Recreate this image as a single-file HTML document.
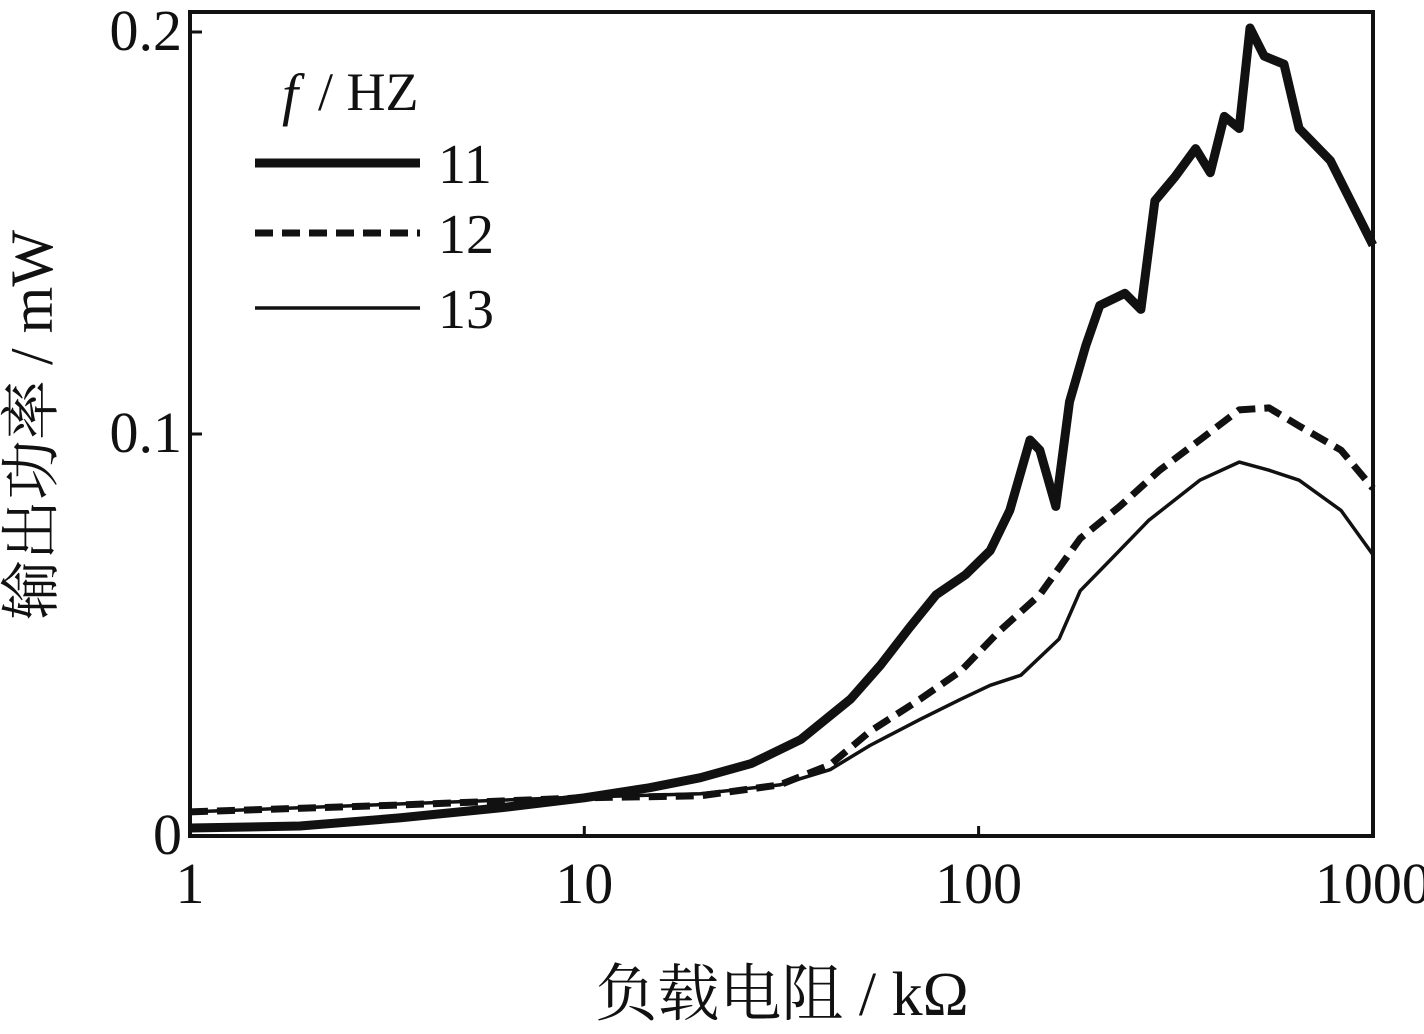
<!DOCTYPE html>
<html><head><meta charset="utf-8"><style>
html,body{margin:0;padding:0;background:#fff;}
svg text{font-family:"Liberation Serif","Noto Serif CJK SC",serif;fill:#111;}
</style></head><body>
<svg width="1424" height="1029" viewBox="0 0 1424 1029" xmlns="http://www.w3.org/2000/svg">
<g id="plot"></g>
<rect x="190" y="12" width="1183" height="824" fill="none" stroke="#111" stroke-width="4"/>
<g>
<text x="282" y="114" font-size="58" font-style="italic">f</text>
<text x="318" y="110" font-size="54">/ HZ</text>
<line x1="255" y1="163" x2="420" y2="163" stroke="#111" stroke-width="9"/>
<text x="438" y="183" font-size="56">11</text>
<line x1="255" y1="233" x2="420" y2="233" stroke="#111" stroke-width="7" stroke-dasharray="18,9"/>
<text x="438" y="253" font-size="56">12</text>
<line x1="255" y1="308" x2="420" y2="308" stroke="#111" stroke-width="3.5"/>
<text x="438" y="328" font-size="56">13</text>
</g>
<text x="782" y="1015" font-size="62" text-anchor="middle">负载电阻 / kΩ</text>
<text transform="translate(52,425) rotate(-90)" font-size="60" text-anchor="middle">输出功率 / mW</text>
</svg>
<script>
const xTicks=[1,10,100,1000];
const xTickLabels=["1","10","100","1000"];
const yTicks=[0,0.1,0.2];
const yTickLabels=["0","0.1","0.2"];
const s11x=[1,1.9,3.4,6.1,10,14.6,19.7,26.5,35.4,47.3,56.4,67,78,92.7,107,120,135,143,157,170,187,203,235,258,280,315,355,387,420,458,488,530,595,650,780,1000];
const s11y=[0.002,0.0025,0.0045,0.007,0.0095,0.012,0.0145,0.018,0.024,0.034,0.0425,0.052,0.06,0.065,0.071,0.081,0.0985,0.096,0.082,0.108,0.122,0.132,0.135,0.131,0.158,0.164,0.171,0.165,0.179,0.176,0.201,0.194,0.192,0.176,0.168,0.147];
const s12x=[1,3.4,10,19.7,31.3,42,53,71,90,113,143,181,228,288,364,458,545,650,830,1000];
const s12y=[0.006,0.0077,0.0095,0.010,0.0127,0.0177,0.026,0.034,0.041,0.051,0.060,0.074,0.082,0.091,0.0985,0.106,0.1065,0.102,0.096,0.0865];
const s13x=[1,10,19.7,31.3,42,53,71,90,107,128,160,181,215,270,364,458,545,650,830,1000];
const s13y=[0.006,0.0097,0.0105,0.0127,0.0165,0.0225,0.029,0.034,0.0375,0.040,0.049,0.061,0.0685,0.0785,0.0885,0.093,0.091,0.0885,0.081,0.070];
const NS="http://www.w3.org/2000/svg";
const X=v=>190+Math.log10(v)*394.3;
const Y=v=>836-v*4020;
const g=document.getElementById('plot');
function mk(t,a){const e=document.createElementNS(NS,t);for(const k in a)e.setAttribute(k,a[k]);g.appendChild(e);return e;}
xTicks.forEach((v,i)=>{
 const t=mk('line',{x1:X(v),x2:X(v),y1:836,y2:826,stroke:'#111','stroke-width':3});
 
 
 const l=mk('text',{x:X(v),y:903,'font-size':58,'text-anchor':'middle'});
 l.textContent=xTickLabels[i];
 
 
});
yTicks.forEach((v,i)=>{
 const t=mk('line',{x1:190,x2:202,y1:Y(v),y2:Y(v),stroke:'#111','stroke-width':3});
 
 
 const l=mk('text',{x:182,y:Y(v)+18,'font-size':58,'text-anchor':'end'});
 l.textContent=yTickLabels[i];
 
 
});
function line(xs,ys,w,dash,name){
 const d=xs.map((v,i)=>(i?'L':'M')+X(v).toFixed(1)+','+Y(ys[i]).toFixed(1)).join('');
 const p=mk('path',{d:d,fill:'none',stroke:'#111','stroke-width':w,'stroke-linejoin':'round'});
 if(dash)p.setAttribute('stroke-dasharray',dash);
 
 
}
line(s13x,s13y,3.5,null,'series-13-line');
line(s12x,s12y,7,'18,9','series-12-line');
line(s11x,s11y,9,null,'series-11-line');
</script>
</body></html>
